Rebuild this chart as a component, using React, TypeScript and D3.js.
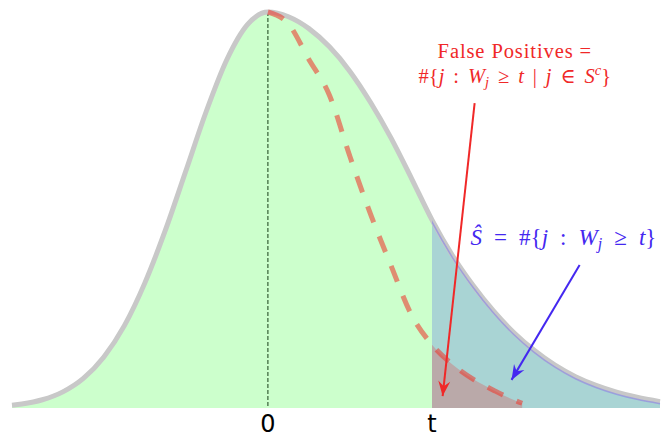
import React from "react";
import * as d3 from "d3";

// Knockoff-filter density sketch: W statistics of all features (grey curve),
// the symmetric null part (dashed red) and the threshold t.

const W = 662;
const H = 437;

// Grid of W values (in units of the null standard deviation)
const GRID = [
  -3.12, -3.0, -2.75, -2.5, -2.25, -2.0, -1.75, -1.5, -1.25, -1.0, -0.75, -0.5, -0.25,
  0, 0.25, 0.5, 0.75, 1.0, 1.25, 1.5, 1.75, 2.0, 2.25, 2.5, 2.75, 3.0, 3.25, 3.5, 3.75,
  4.0, 4.25, 4.5, 4.78,
];

// Relative density of all W_j (peak normalised to 1)
const ALL_DENSITY = [
  0.0068, 0.01, 0.0208, 0.0408, 0.0748, 0.129, 0.208, 0.316, 0.449, 0.599, 0.75, 0.88, 0.968,
  1.0, 0.988, 0.958, 0.912, 0.85, 0.772, 0.682, 0.58, 0.475, 0.385, 0.31, 0.245, 0.19, 0.145,
  0.108, 0.079, 0.057, 0.04, 0.027, 0.016,
];

// Null features, W_j >= 0 half
const NULL_GRID = [0, 0.25, 0.5, 0.75, 1.0, 1.25, 1.5, 1.75, 2.0, 2.25, 2.5, 2.75, 3.0, 3.1];
const NULL_DENSITY = [1.0, 0.97, 0.88, 0.79, 0.635, 0.49, 0.36, 0.235, 0.16, 0.11, 0.073, 0.045, 0.02, 0.012];

const THRESHOLD = 2;
const TICK_VALUES = [0, THRESHOLD];
const TICK_LABELS = ["0", "t"];

const RED = "#f02828";
const BLUE = "#4428f0";

export default function App() {
  const x = d3.scaleLinear().domain([-3.12, 4.78]).range([12, 660]);
  const y = d3.scaleLinear().domain([0, 1]).range([408, 12]);

  const allPts: [number, number][] = GRID.map((g, i) => [g, ALL_DENSITY[i]]);
  const nullPts: [number, number][] = NULL_GRID.map((g, i) => [g, NULL_DENSITY[i]]);

  const area = d3
    .area<[number, number]>()
    .x((d) => x(d[0]))
    .y0(y(0))
    .y1((d) => y(d[1]))
    .curve(d3.curveMonotoneX);
  const line = d3
    .line<[number, number]>()
    .x((d) => x(d[0]))
    .y((d) => y(d[1]))
    .curve(d3.curveMonotoneX);

  const tx = x(THRESHOLD);

  // annotation anchors in data coordinates
  const fpArrow = { x1: 2.52, y1: 0.77, x2: 2.13, y2: 0.03 };
  const selArrow = { x1: 3.8, y1: 0.361, x2: 2.97, y2: 0.071 };

  const serif = "'Liberation Serif', 'DejaVu Serif', serif";
  const sp = 3.8; // extra space around relations (red)
  const bsp = 6.3; // extra space around relations (blue)

  return (
    <svg
      width={W}
      height={H}
      style={{ position: "absolute", left: 0, top: 0, background: "#fff" }}
    >
      <defs>
        <clipPath id="right-of-t">
          <rect x={tx} y={0} width={W - tx} height={y(0)} />
        </clipPath>
        <clipPath id="above-base">
          <rect x={0} y={0} width={W} height={y(0)} />
        </clipPath>
        <marker
          id="head-red"
          viewBox="-16 -8 18 16"
          markerWidth={18}
          markerHeight={16}
          refX={0}
          refY={0}
          orient="auto"
          markerUnits="userSpaceOnUse"
        >
          <path d="M0,0 L-15,-6 L-10,0 L-15,6 Z" fill={RED} />
        </marker>
        <marker
          id="head-blue"
          viewBox="-16 -8 18 16"
          markerWidth={18}
          markerHeight={16}
          refX={0}
          refY={0}
          orient="auto"
          markerUnits="userSpaceOnUse"
        >
          <path d="M0,0 L-15,-6 L-10,0 L-15,6 Z" fill={BLUE} />
        </marker>
      </defs>

      {/* all features */}
      <path d={area(allPts) ?? ""} fill="#ccffcc" />
      {/* selected set: W_j >= t */}
      <path d={area(allPts) ?? ""} fill="#0000ff" fillOpacity={0.17} clipPath="url(#right-of-t)" />
      {/* false positives */}
      <path d={area(nullPts) ?? ""} fill="#ff0000" fillOpacity={0.2} clipPath="url(#right-of-t)" />

      {/* centre line at 0 */}
      <line
        x1={x(0)}
        x2={x(0)}
        y1={y(1)}
        y2={y(0)}
        stroke="#173d17"
        strokeWidth={1}
        strokeDasharray="4,2"
      />

      {/* outline of the full density */}
      <path d={line(allPts) ?? ""} fill="none" stroke="#c8c8c8" strokeWidth={5} />
      <g clipPath="url(#right-of-t)">
        <path
          d={line(allPts) ?? ""}
          fill="none"
          stroke="#5050ff"
          strokeOpacity={0.35}
          strokeWidth={1.5}
          transform="translate(0,2)"
        />
      </g>

      {/* null density */}
      <g clipPath="url(#above-base)">
        <path
          d={line(nullPts) ?? ""}
          fill="none"
          stroke="#ec3a2e"
          strokeOpacity={0.58}
          strokeWidth={5}
          strokeDasharray="17,15"
        />
      </g>

      {/* arrows */}
      <line
        x1={x(fpArrow.x1)}
        y1={y(fpArrow.y1)}
        x2={x(fpArrow.x2)}
        y2={y(fpArrow.y2)}
        stroke={RED}
        strokeWidth={2}
        markerEnd="url(#head-red)"
      />
      <line
        x1={x(selArrow.x1)}
        y1={y(selArrow.y1)}
        x2={x(selArrow.x2)}
        y2={y(selArrow.y2)}
        stroke={BLUE}
        strokeWidth={2}
        markerEnd="url(#head-blue)"
      />

      {/* annotations */}
      <g fill={RED} fontFamily={serif} fontSize={20.5} textAnchor="middle">
        <text x={x(3.01)} y={y(0.884)} letterSpacing={0.9}>
          False Positives =
        </text>
        <text x={x(3.01)} y={y(0.821)}>
          <tspan>{"#{"}</tspan>
          <tspan fontStyle="italic">j</tspan>
          <tspan dx={sp}>{" : "}</tspan>
          <tspan fontStyle="italic" dx={sp}>W</tspan>
          <tspan fontStyle="italic" fontSize={14.5} dy={4}>j</tspan>
          <tspan dy={-4} dx={sp}>{" ≥ "}</tspan>
          <tspan fontStyle="italic" dx={sp}>t</tspan>
          <tspan dx={sp}>{" | "}</tspan>
          <tspan fontStyle="italic" dx={sp}>j</tspan>
          <tspan dx={sp}>{" ∈ "}</tspan>
          <tspan fontStyle="italic" dx={sp}>S</tspan>
          <tspan fontStyle="italic" fontSize={14.5} dy={-8}>c</tspan>
          <tspan dy={8}>{"}"}</tspan>
        </text>
      </g>
      <g fill={BLUE} fontFamily={serif} fontSize={23}>
        <text x={x(2.47)} y={y(0.412)}>
          <tspan fontStyle="italic">Ŝ</tspan>
          <tspan dx={bsp}>{" = "}</tspan>
          <tspan dx={bsp}>{"#{"}</tspan>
          <tspan fontStyle="italic">j</tspan>
          <tspan dx={bsp}>{" : "}</tspan>
          <tspan fontStyle="italic" dx={bsp}>W</tspan>
          <tspan fontStyle="italic" fontSize={16} dy={4}>j</tspan>
          <tspan dy={-4} dx={bsp}>{" ≥ "}</tspan>
          <tspan fontStyle="italic" dx={bsp}>t</tspan>
          <tspan>{"}"}</tspan>
        </text>
      </g>

      {/* tick labels */}
      <g fontFamily="'DejaVu Sans', sans-serif" fontSize={24} fill="#000" textAnchor="middle">
        {TICK_VALUES.map((v, i) => (
          <text key={v} x={x(v)} y={432}>
            {TICK_LABELS[i]}
          </text>
        ))}
      </g>
    </svg>
  );
}
